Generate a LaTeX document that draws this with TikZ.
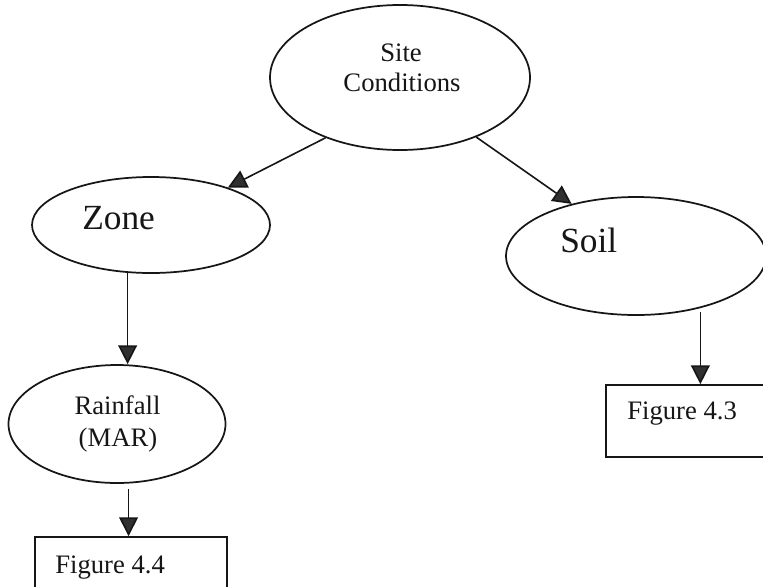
\documentclass[tikz,border=0pt]{standalone}
\usepackage{fontspec}
\setmainfont{Liberation Serif}
\usetikzlibrary{shapes.geometric,arrows.meta}
\definecolor{ink}{RGB}{22,22,22}
\definecolor{tipgray}{RGB}{48,48,48}
\begin{document}
\begin{tikzpicture}[x=0.75pt,y=-0.75pt,
  oval/.style={ellipse,draw=ink,line width=1.3pt,inner sep=0pt},
  figbox/.style={rectangle,draw=ink,line width=1.3pt,inner sep=0pt},
  bigtxt/.style={font=\fontsize{26.5}{30}\selectfont,text=ink,inner sep=0pt},
  smalltxt/.style={font=\fontsize{20}{24}\selectfont,text=ink,inner sep=0pt},
  link/.style={draw=ink,line width=1.2pt,-{Triangle[length=14pt,width=14pt,fill=tipgray]}}]

% page frame
\fill[white] (0,0) rectangle (763,586);
\useasboundingbox (0,0) rectangle (763,586);

% ellipses
\node[oval,minimum width=195pt,minimum height=108.75pt] (site) at (400,77.5) {};
\node[oval,minimum width=178.5pt,minimum height=72pt] (zone) at (151,225) {};
\node[oval,minimum width=162.75pt,minimum height=88.5pt] (rain) at (117,424) {};
\node[oval,minimum width=195pt,minimum height=88.5pt] (soil) at (636,256) {};

% figure reference boxes
\node[figbox,minimum width=144pt,minimum height=45pt] (fig44) at (131,567) {};
\node[figbox,minimum width=127.5pt,minimum height=54pt] (fig43) at (691,421) {};

% labels
\node[smalltxt,anchor=base] (siteA) at (401,61) {Site};
\node[smalltxt,anchor=base] (siteB) at (402,91) {Conditions};
\node[bigtxt,anchor=base west] (zonetxt) at (82,229) {Zone};
\node[bigtxt,anchor=base west] (soiltxt) at (560,252) {Soil};
\node[smalltxt,anchor=base] (rainA) at (117.5,414) {Rainfall};
\node[smalltxt,anchor=base] (rainB) at (118,446) {(MAR)};
\node[smalltxt,anchor=base west] (fig43txt) at (627,419) {Figure 4.3};
\node[smalltxt,anchor=base west] (fig44txt) at (55,573) {Figure 4.4};

% connectors
\draw[link] (site.219.3) -- (zone.26.6);
\draw[link] (site.322.7) -- (soil.141.2);
\draw[link] (zone.244) -- (zone.244 |- rain.north);
\draw[link,shorten <=4pt] (rain.281.6) -- (rain.281.6 |- fig44.north);
\draw[link,shorten <=3pt] (soil.321.3) -- (soil.321.3 |- fig43.north);
\end{tikzpicture}
\end{document}
